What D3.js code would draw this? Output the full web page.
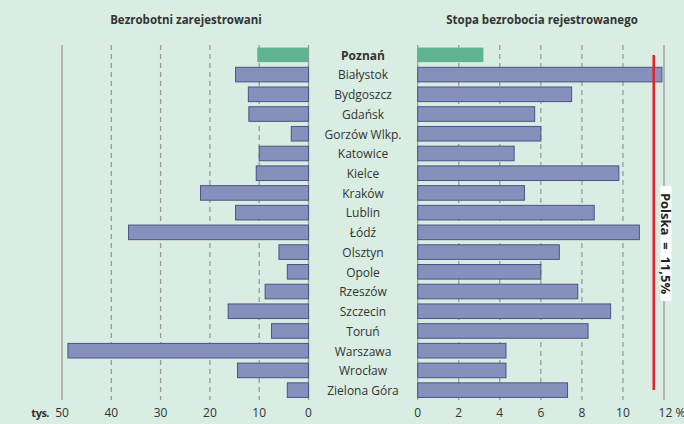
<!DOCTYPE html>
<html><head><meta charset="utf-8">
<script src="https://cdn.jsdelivr.net/npm/d3@7"></script>
<style>
html,body{margin:0;padding:0;background:#d9ede3;}
svg{display:block;font-family:"Open Sans","Noto Sans",sans-serif;}
</style></head><body>
<svg id="c" width="684" height="424"></svg>
<script>
const cities = ["Poznań","Białystok","Bydgoszcz","Gdańsk","Gorzów Wlkp.","Katowice","Kielce","Kraków","Lublin","Łódź","Olsztyn","Opole","Rzeszów","Szczecin","Toruń","Warszawa","Wrocław","Zielona Góra"];
const unemployed = [10.4,14.8,12.2,12.1,3.5,10.0,10.6,21.9,14.8,36.5,6.0,4.3,8.8,16.3,7.5,48.8,14.4,4.3];
const rate = [3.2,11.9,7.5,5.7,6.0,4.7,9.8,5.2,8.6,10.8,6.9,6.0,7.8,9.4,8.3,4.3,4.3,7.3];
const leftTicks = [0,10,20,30,40,50];
const rightTicks = [0,2,4,6,8,10,12];
const polska = 11.5;
const titles = ["Bezrobotni zarejestrowani","Stopa bezrobocia rejestrowanego"];

const svg = d3.select("#c");
const y = d3.scaleBand().domain(cities).range([45,400]).paddingInner(0.26).paddingOuter(0.13);
const xl = d3.scaleLinear().domain([0,50]).range([308.5,62]);
const xr = d3.scaleLinear().domain([0,12]).range([417.7,664]);
const gridTop = 45, gridBot = 400;
const barFill = "#8790bd", barStroke = "#4d5280", green = "#5fb391", gridCol = "#999", axisCol = "#9a9a9a";

// grid left
svg.append("g").selectAll("line").data(leftTicks).join("line")
  .attr("x1",d=>xl(d)).attr("x2",d=>xl(d)).attr("y1",gridTop).attr("y2",gridBot)
  .attr("stroke",d=>(d===0||d===50)?axisCol:gridCol).attr("stroke-width",1.3)
  .attr("stroke-dasharray",d=>(d===0||d===50)?null:"5,4");
svg.append("g").selectAll("line").data(rightTicks).join("line")
  .attr("x1",d=>xr(d)).attr("x2",d=>xr(d)).attr("y1",gridTop).attr("y2",gridBot)
  .attr("stroke",d=>(d===0||d===12)?axisCol:gridCol).attr("stroke-width",1.3)
  .attr("stroke-dasharray",d=>(d===0||d===12)?null:"5,4");

// bars left
svg.append("g").selectAll("rect").data(cities).join("rect")
  .attr("x",(d,i)=>xl(unemployed[i])).attr("width",(d,i)=>xl(0)-xl(unemployed[i]))
  .attr("y",d=>y(d)).attr("height",y.bandwidth())
  .attr("fill",(d,i)=>i===0?green:barFill).attr("stroke",(d,i)=>i===0?"none":barStroke).attr("stroke-width",1);
// bars right
svg.append("g").selectAll("rect").data(cities).join("rect")
  .attr("x",xr(0)).attr("width",(d,i)=>xr(rate[i])-xr(0))
  .attr("y",d=>y(d)).attr("height",y.bandwidth())
  .attr("fill",(d,i)=>i===0?green:barFill).attr("stroke",(d,i)=>i===0?"none":barStroke).attr("stroke-width",1);

// city labels
svg.append("g").selectAll("text").data(cities).join("text")
  .attr("x",363).attr("y",d=>y(d)+y.bandwidth()/2+0.5).attr("dy","0.36em")
  .attr("text-anchor","middle").attr("font-size",12).attr("fill","#333")
  .attr("font-weight",(d,i)=>i===0?"bold":"normal").text(d=>d);

// tick labels
svg.append("g").selectAll("text").data(leftTicks).join("text")
  .attr("x",d=>xl(d)).attr("y",417).attr("text-anchor","middle").attr("font-size",12).attr("fill","#333").text(d=>d);
svg.append("g").selectAll("text").data(rightTicks).join("text")
  .attr("x",d=>xr(d)).attr("y",417).attr("text-anchor","middle").attr("font-size",12).attr("fill","#333").text(d=>d===12?"12 %":d)
  .attr("dx",d=>d===12?8:0);
svg.append("text").attr("x",49).attr("y",417).attr("text-anchor","end").attr("font-size",11).attr("font-weight","bold").attr("fill","#333").attr("letter-spacing","-0.5").text("tys.");

// titles
svg.append("text").attr("x",186).attr("y",24).attr("text-anchor","middle").attr("font-size",11.5).attr("font-weight","bold").attr("fill","#333").text(titles[0]);
svg.append("text").attr("x",542).attr("y",24).attr("text-anchor","middle").attr("font-size",11.5).attr("font-weight","bold").attr("fill","#333").text(titles[1]);

// red line
svg.append("line").attr("x1",xr(polska)).attr("x2",xr(polska)).attr("y1",55).attr("y2",390)
  .attr("stroke","#e8202a").attr("stroke-width",2.5);
// Polska label
svg.append("rect").attr("x",660.5).attr("y",186).attr("width",11).attr("height",115).attr("fill","#fff");
svg.append("text").attr("transform","translate(666,243.5) rotate(90)").attr("text-anchor","middle").attr("dy","0.36em")
  .attr("font-size",13).attr("font-weight","bold").attr("fill","#222").attr("xml:space","preserve").text("Polska  =  11,5%");
</script></body></html>
